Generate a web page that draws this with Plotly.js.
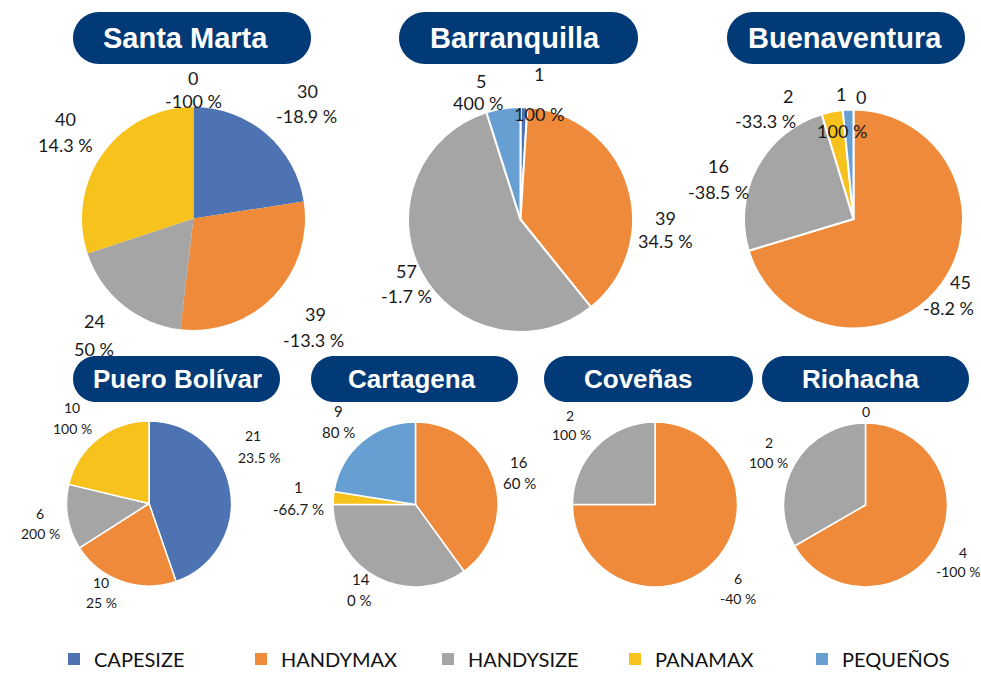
<!DOCTYPE html>
<html><head><meta charset="utf-8">
<script src="https://cdn.plot.ly/plotly-3.0.1.min.js"></script>
<style>html,body{margin:0;padding:0;background:#fff;} #chart{width:981px;height:673px;}</style>
</head><body><div id="chart"></div>
<script>
// ---------- DATA ----------
const categories = ['CAPESIZE', 'HANDYMAX', 'HANDYSIZE', 'PANAMAX', 'PEQUEÑOS'];
const ports = ['Santa Marta', 'Barranquilla', 'Buenaventura', 'Puero Bolívar', 'Cartagena', 'Coveñas', 'Riohacha'];

const santaMartaValues    = [30, 39, 24, 40, 0];
const santaMartaChange    = [-18.9, -13.3, 50, 14.3, -100];
const barranquillaValues  = [1, 39, 57, null, 5];
const barranquillaChange  = [100, 34.5, -1.7, null, 400];
const buenaventuraValues  = [0, 45, 16, 2, 1];
const buenaventuraChange  = [null, -8.2, -38.5, -33.3, 100];
const puertoBolivarValues = [21, 10, 6, 10, null];
const puertoBolivarChange = [23.5, 25, 200, 100, null];
const cartagenaValues     = [null, 16, 14, 1, 9];
const cartagenaChange     = [null, 60, 0, -66.7, 80];
const covenasValues       = [null, 6, 2, null, null];
const covenasChange       = [null, -40, 100, null, null];
const riohachaValues      = [0, 4, 2, null, null];
const riohachaChange      = [null, -100, 100, null, null];

const portValues  = [santaMartaValues, barranquillaValues, buenaventuraValues, puertoBolivarValues, cartagenaValues, covenasValues, riohachaValues];
const portChanges = [santaMartaChange, barranquillaChange, buenaventuraChange, puertoBolivarChange, cartagenaChange, covenasChange, riohachaChange];

// ---------- STYLE / LAYOUT ----------
const W = 981, H = 673;
const categoryColors = ['#4E73B2', '#EE8A3A', '#A6A5A5', '#F8C21C', '#679FD3'];
const badgeColor = '#013A76';
const labelFont = 'Lato, "Open Sans", sans-serif';

// pie centre/radius, badge box, title position, label font size, slice border, label positions [vx,vy,cx,cy] per category
const panels = [
  {cx:193.5, cy:218.5, r:111.5, badge:[73,12,311,64],  tx:185, ty:38, ts:29, ls:18, lw:0,
   pos:[[307,91,306,116],[315,314,313,340],[94,321,94,349],[65,119,65,145],[193,78,193,101]]},
  {cx:520.5, cy:219.5, r:112.5, badge:[399,12,638,64], tx:515, ty:38, ts:29, ls:18, lw:2,
   pos:[[539,74,539,114],[665,218,665,241],[406,271,406,296],null,[481,81,478,103]]},
  {cx:853.5, cy:219,   r:109.5, badge:[727,12,965,64], tx:845, ty:38, ts:29, ls:18, lw:2,
   pos:[[861,97,0,0],[960,282,948,308],[718,166,718,192],[788,96,765,121],[841,94,842,131]]},
  {cx:149,   cy:503.5, r:82.5,  badge:[73,356,280,402], tx:177, ty:379, ts:26, ls:14, lw:1.5,
   pos:[[253,435,259,457],[101,582,101,602],[40,513,40,533],[72,408,72,428],null]},
  {cx:415.5, cy:504.5, r:82.5,  badge:[311,356,518,402], tx:412, ty:379, ts:26, ls:15, lw:1.5,
   pos:[null,[519,462,519,483],[361,579,359,600],[298,487,298,509],[338,411,338,432]]},
  {cx:655,   cy:504.5, r:82.5,  badge:[544,356,753,402], tx:638, ty:379, ts:26, ls:14, lw:1.5,
   pos:[null,[738,578,738,598],[570,415,571,434],null,null]},
  {cx:865.5, cy:505,   r:82,    badge:[762,356,969,402], tx:861, ty:379, ts:26, ls:14, lw:1.5,
   pos:[[866,411,0,0],[963,552,958,571],[769,442,768,462],null,null]}
];

const px = x => x / W;
const py = y => 1 - y / H;
const P = (x, y) => px(x).toFixed(5) + ',' + py(y).toFixed(5);

function pill(b) {
  const [x0, y0, x1, y1] = b;
  const r = (y1 - y0) / 2, k = 0.5523 * r;
  return 'M' + P(x0 + r, y0) + ' L' + P(x1 - r, y0) +
    ' C' + P(x1 - r + k, y0) + ' ' + P(x1, y0 + r - k) + ' ' + P(x1, y0 + r) +
    ' C' + P(x1, y0 + r + k) + ' ' + P(x1 - r + k, y1) + ' ' + P(x1 - r, y1) +
    ' L' + P(x0 + r, y1) +
    ' C' + P(x0 + r - k, y1) + ' ' + P(x0, y0 + r + k) + ' ' + P(x0, y0 + r) +
    ' C' + P(x0, y0 + r - k) + ' ' + P(x0 + r - k, y0) + ' ' + P(x0 + r, y0) + ' Z';
}

const traces = [];
const shapes = [];
const annotations = [];

panels.forEach((p, i) => {
  traces.push({
    type: 'pie',
    name: ports[i],
    labels: categories,
    values: portValues[i],
    sort: false,
    direction: 'clockwise',
    rotation: 0,
    textinfo: 'none',
    hoverinfo: 'skip',
    marker: {colors: categoryColors, line: {color: '#ffffff', width: p.lw}},
    domain: {x: [px(p.cx - p.r), px(p.cx + p.r)], y: [py(p.cy + p.r), py(p.cy - p.r)]}
  });
  shapes.push({type: 'path', xref: 'paper', yref: 'paper', path: pill(p.badge),
               fillcolor: badgeColor, line: {width: 0}, layer: 'above'});
  annotations.push({xref: 'paper', yref: 'paper', x: px(p.tx), y: py(p.ty), xanchor: 'center', yanchor: 'middle',
    text: '<b>' + ports[i] + '</b>', showarrow: false,
    font: {family: 'Arial, "Liberation Sans", sans-serif', size: p.ts, color: '#ffffff'}});
  categories.forEach((c, j) => {
    const v = portValues[i][j];
    const pos = p.pos[j];
    if (v === null || !pos) return;
    annotations.push({xref: 'paper', yref: 'paper', x: px(pos[0]), y: py(pos[1]), xanchor: 'center', yanchor: 'middle',
      text: String(v), showarrow: false, font: {family: labelFont, size: p.ls, color: '#1a1a1a'}});
    const ch = portChanges[i][j];
    if (ch !== null) {
      annotations.push({xref: 'paper', yref: 'paper', x: px(pos[2]), y: py(pos[3]), xanchor: 'center', yanchor: 'middle',
        text: ch + ' %', showarrow: false, font: {family: labelFont, size: p.ls, color: '#1a1a1a'}});
    }
  });
});

const layout = {
  width: W, height: H,
  margin: {l: 0, r: 0, t: 0, b: 0, pad: 0, autoexpand: false},
  paper_bgcolor: '#ffffff',
  plot_bgcolor: '#ffffff',
  showlegend: true,
  legend: {
    orientation: 'h', x: px(54), xanchor: 'left', y: py(659), yanchor: 'middle',
    font: {family: 'Lato, "Open Sans", sans-serif', size: 20, color: '#111111'},
    entrywidth: 142, entrywidthmode: 'pixels', traceorder: 'normal', bgcolor: 'rgba(0,0,0,0)'
  },
  shapes: shapes,
  annotations: annotations
};

Plotly.newPlot('chart', traces, layout, {displayModeBar: false, staticPlot: true});
</script>
</body></html>
